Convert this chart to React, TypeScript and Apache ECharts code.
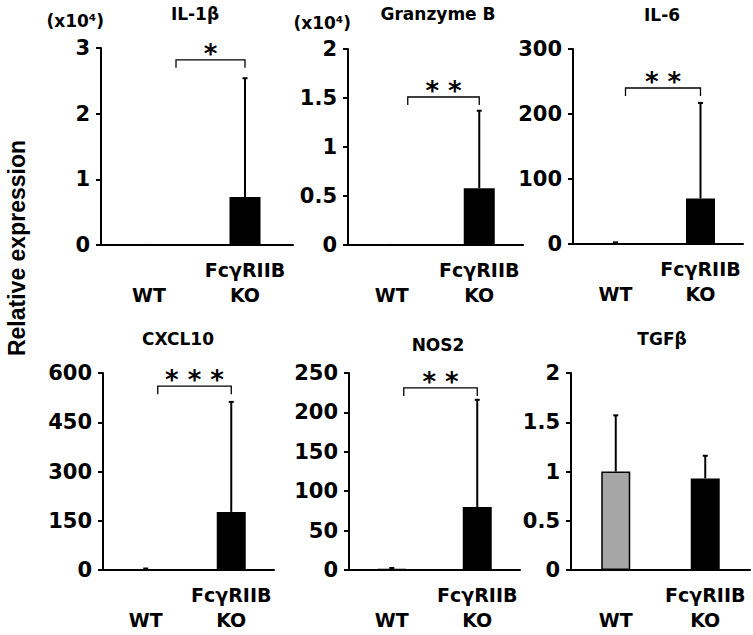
import React, { useEffect, useRef } from "react";
import * as echarts from "echarts";

// ---- data ----
const categories = ["WT", "FcγRIIB\nKO"];
const genes = ["IL-1β", "Granzyme B", "IL-6", "CXCL10", "NOS2", "TGFβ"];
const scaleNotes = ["(x10⁴)", "(x10⁴)", "", "", "", ""];
const yMax = [3, 2, 300, 600, 250, 2];
const yStep = [1, 0.5, 100, 150, 50, 0.5];
const wtMean = [0.0003, 0.0002, 1, 1.5, 1, 1.0];
const wtSd = [0.0005, 0.0003, 1.5, 3, 1.5, 0.57];
const koMean = [0.73, 0.58, 70, 177, 80, 0.93];
const koSd = [1.81, 0.79, 147, 335, 136, 0.23];
const stars = ["*", "* *", "* *", "* * *", "* *", ""];
const bracketLevel = [2.82, 1.51, 240, 560, 231, 0];
const yTitle = "Relative expression";

// ---- layout ----
const grids = [
  [101, 48, 192, 197],
  [348, 49, 175, 196],
  [573, 49, 170, 195],
  [103, 373, 171, 197],
  [349, 373, 171, 197],
  [571, 373, 179, 197],
];
const barWidths = [31, 31, 29, 29, 29, 29];
const titlePos = [
  [195, 14],
  [438, 14],
  [662, 15],
  [178, 339],
  [438, 345],
  [662, 339],
];
const bracketInset = [27, 16, 10, 12, 12, 0];
const noteGap = [27, 26, 0, 0, 0, 0];

const FONT = "DejaVu Sans";

export default function App() {
  const ref = useRef<HTMLDivElement>(null);
  useEffect(() => {
    if (!ref.current) return;
    const chart = echarts.init(ref.current, null, { renderer: "svg" });
    const n = genes.length;
    const series: any[] = [];
    for (let i = 0; i < n; i++) {
      series.push({
        type: "bar",
        xAxisIndex: i,
        yAxisIndex: i,
        barWidth: barWidths[i],
        data: [
          {
            value: wtMean[i],
            itemStyle: { color: "#a6a6a6", borderColor: "#000", borderWidth: 1.5 },
          },
          { value: koMean[i], itemStyle: { color: "#000" } },
        ],
        silent: true,
      });
      series.push({
        type: "custom",
        xAxisIndex: i,
        yAxisIndex: i,
        silent: true,
        z: 5,
        data: [
          [0, wtMean[i], wtSd[i]],
          [1, koMean[i], koSd[i]],
        ],
        encode: { x: 0, y: 1 },
        renderItem: (params: any, api: any) => {
          const c = api.value(0);
          const m = api.value(1);
          const s = api.value(2);
          const p0 = api.coord([c, m]);
          const p1 = api.coord([c, m + s]);
          return {
            type: "group",
            children: [
              {
                type: "line",
                shape: { x1: p0[0], y1: p0[1], x2: p1[0], y2: p1[1] },
                style: { stroke: "#000", lineWidth: 2 },
              },
              {
                type: "line",
                shape: { x1: p1[0] - 2.5, y1: p1[1], x2: p1[0] + 2.5, y2: p1[1] },
                style: { stroke: "#000", lineWidth: 2 },
              },
            ],
          };
        },
      });
      if (stars[i]) {
        const inset = bracketInset[i];
        series.push({
          type: "custom",
          xAxisIndex: i,
          yAxisIndex: i,
          silent: true,
          z: 6,
          data: [[0, bracketLevel[i]]],
          encode: { x: 0, y: 1 },
          renderItem: (params: any, api: any) => {
            const lvl = api.value(1);
            const a = api.coord([0, lvl]);
            const b = api.coord([1, lvl]);
            const x0 = a[0] + inset;
            const x1 = b[0];
            const y = a[1];
            return {
              type: "group",
              children: [
                {
                  type: "polyline",
                  shape: {
                    points: [
                      [x0, y + 8],
                      [x0, y],
                      [x1, y],
                      [x1, y + 8],
                    ],
                  },
                  style: { stroke: "#000", lineWidth: 1.3, fill: null },
                },
                {
                  type: "text",
                  x: (x0 + x1) / 2,
                  y: y - 6,
                  style: {
                    text: stars[i],
                    fill: "#000",
                    font: `bold 26px '${FONT}'`,
                    align: "center",
                    verticalAlign: "middle",
                  },
                },
              ],
            };
          },
        });
      }
    }

    const graphic: any[] = genes.map((g, i) => ({
      type: "text",
      x: titlePos[i][0],
      y: titlePos[i][1],
      style: {
        text: g,
        fill: "#000",
        font: `bold 17px '${FONT}'`,
        align: "center",
        verticalAlign: "middle",
      },
    }));
    graphic.push({
      type: "text",
      x: 17,
      y: 248,
      rotation: Math.PI / 2,
      style: {
        text: yTitle,
        fill: "#000",
        font: "bold 23px 'Liberation Sans'",
        align: "center",
        verticalAlign: "middle",
      },
    });

    chart.setOption({
      animation: false,
      backgroundColor: "#fff",
      grid: grids.map((g) => ({ left: g[0], top: g[1], width: g[2], height: g[3] })),
      xAxis: genes.map((_, i) => ({
        gridIndex: i,
        type: "category",
        data: categories,
        axisLine: { lineStyle: { color: "#000", width: 2 } },
        axisTick: { show: false },
        axisLabel: {
          interval: 0,
          color: "#000",
          fontFamily: FONT,
          fontWeight: "bold",
          fontSize: 19,
          lineHeight: 25,
          margin: 12,
          formatter: (v: string) => (v.includes("\n") ? v : "\n" + v),
        },
      })),
      yAxis: genes.map((_, i) => ({
        gridIndex: i,
        type: "value",
        min: 0,
        max: yMax[i],
        interval: yStep[i],
        name: scaleNotes[i],
        nameLocation: "end",
        nameGap: noteGap[i],
        nameTextStyle: {
          color: "#000",
          fontFamily: FONT,
          fontWeight: "bold",
          fontSize: 17,
          align: "right",
          verticalAlign: "middle",
          padding: [0, -3, 0, 0],
        },
        axisLine: { show: true, lineStyle: { color: "#000", width: 2 } },
        axisTick: { show: true, length: 5, lineStyle: { color: "#000", width: 2 } },
        splitLine: { show: false },
        axisLabel: {
          color: "#000",
          fontFamily: FONT,
          fontWeight: "bold",
          fontSize: 21,
          margin: 11,
        },
      })),
      series,
      graphic,
    });
    return () => chart.dispose();
  }, []);
  return (
    <div
      ref={ref}
      style={{ position: "fixed", left: 0, top: 0, width: 753, height: 635, background: "#fff" }}
    />
  );
}
